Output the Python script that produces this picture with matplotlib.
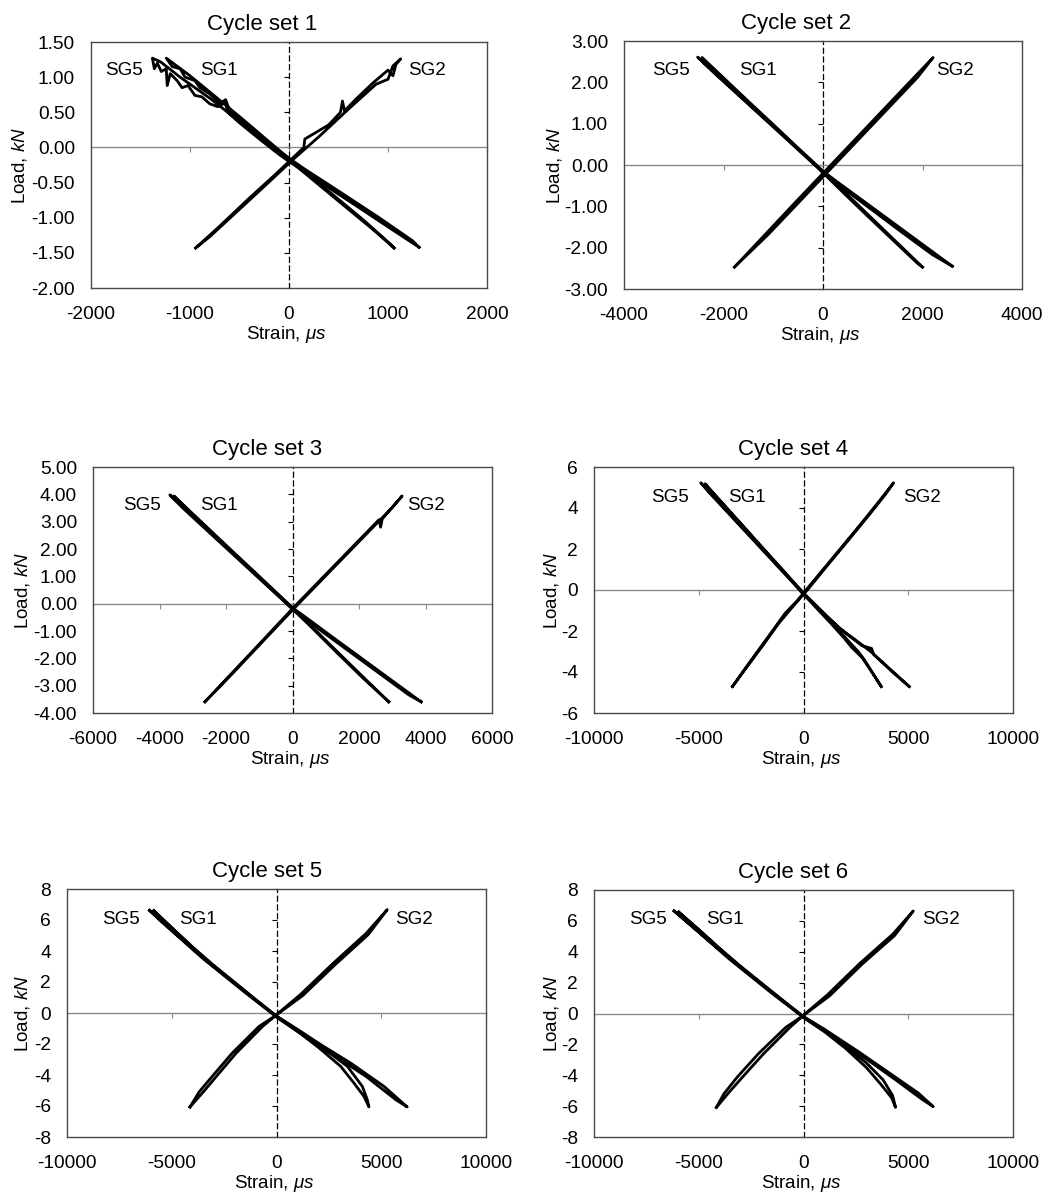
import numpy as np
import matplotlib
matplotlib.use('Agg')
import matplotlib.pyplot as plt
from matplotlib.ticker import FormatStrFormatter

plt.rcParams['font.family'] = ['Liberation Sans', 'DejaVu Sans']
plt.rcParams['mathtext.fontset'] = 'custom'
plt.rcParams['mathtext.rm'] = 'Liberation Sans'
plt.rcParams['mathtext.it'] = 'Liberation Sans:italic'
plt.rcParams['axes.unicode_minus'] = False

# Strain (microstrain) vs load (kN).
# Each list walks the hysteresis loop: out along one branch, back along the other.
set1_sg5_strain = [1313, 1000, 700, 300, 0, -100, -300, -500, -620, -640, -720, -800, -880, -950, -1020,
                   -1080, -1130, -1200, -1230, -1240, -1290, -1330, -1360, -1380, -1300, -1100, -800, -500,
                   -200, 150, 500, 900, 1250, 1313]
set1_sg5_load = [-1.42, -1.13, -0.85, -0.48, -0.20, -0.10, 0.12, 0.35, 0.50, 0.64, 0.58, 0.62, 0.72, 0.74, 0.88,
                 0.85, 0.95, 1.05, 0.88, 1.12, 1.08, 1.20, 1.12, 1.27, 1.22, 1.00, 0.70, 0.37,
                 0.04, -0.30, -0.62, -0.99, -1.33, -1.42]
set1_sg1_strain = [1061, 850, 600, 300, 0, -200, -400, -600, -640, -700, -800, -900, -950, -1050, -1100, -1180,
                   -1239, -1000, -750, -450, -150, 150, 450, 750, 1020, 1061]
set1_sg1_load = [-1.43, -1.17, -0.88, -0.53, -0.18, 0.05, 0.28, 0.52, 0.68, 0.62, 0.76, 0.85, 0.95, 1.00, 1.12, 1.15,
                 1.27, 1.02, 0.73, 0.38, 0.02, -0.33, -0.68, -1.03, -1.37, -1.43]
set1_sg2_strain = [-943, -700, -400, -150, 0, 150, 160, 400, 520, 540, 560, 700, 850, 1000, 1050, 1080, 1128,
                   1050, 1000, 880, 620, 300, 50, -200, -500, -800, -943]
set1_sg2_load = [-1.43, -1.12, -0.72, -0.40, -0.20, 0.0, 0.12, 0.32, 0.50, 0.66, 0.52, 0.72, 0.92, 1.10, 1.02, 1.18, 1.26,
                 1.16, 0.97, 0.90, 0.57, 0.15, -0.16, -0.49, -0.88, -1.27, -1.43]

set2_sg5_strain = [2600, 2000, 1400, 800, 300, 0, -500, -1000, -1500, -2000, -2520, -2200, -1600, -1000, -400,
                   0, 400, 1000, 1600, 2200, 2600]
set2_sg5_load = [-2.45, -1.92, -1.39, -0.86, -0.42, -0.15, 0.40, 0.95, 1.49, 2.04, 2.61, 2.24, 1.58, 0.92, 0.26,
                 -0.18, -0.56, -1.10, -1.64, -2.17, -2.45]
set2_sg1_strain = [2000, 1500, 1000, 500, 0, -500, -1000, -1500, -2000, -2433, -2100, -1600, -1100, -600, -100,
                   400, 900, 1400, 1900, 2000]
set2_sg1_load = [-2.47, -1.89, -1.31, -0.73, -0.15, 0.41, 0.98, 1.54, 2.11, 2.60, 2.20, 1.62, 1.05, 0.49, -0.07,
                 -0.66, -1.24, -1.81, -2.38, -2.47]
set2_sg2_strain = [-1780, -1200, -600, 0, 600, 1200, 1800, 2213, 1900, 1300, 700, 100, -500, -1100, -1780]
set2_sg2_load = [-2.47, -1.73, -0.96, -0.20, 0.56, 1.32, 2.08, 2.60, 2.12, 1.36, 0.60, -0.16, -0.92, -1.68, -2.47]

set3_sg5_strain = [3869, 3000, 2000, 1200, 500, 0, -1000, -2000, -3000, -3688, -3300, -2500, -1500, -500, 0,
                   800, 1700, 2600, 3500, 3869]
set3_sg5_load = [-3.59, -2.82, -1.93, -1.22, -0.59, -0.15, 0.97, 2.09, 3.21, 3.98, 3.50, 2.60, 1.48, 0.36, -0.20,
                 -0.94, -1.74, -2.54, -3.34, -3.59]
set3_sg1_strain = [2894, 2200, 1500, 800, 0, -1000, -2000, -3000, -3568, -3200, -2300, -1300, -300, 500, 1300,
                   2100, 2894]
set3_sg1_load = [-3.59, -2.77, -1.94, -1.10, -0.15, 1.00, 2.14, 3.29, 3.94, 3.48, 2.44, 1.30, 0.15, -0.78, -1.75,
                 -2.70, -3.59]
set3_sg2_strain = [-2633, -2000, -1000, 0, 1000, 2000, 2600, 2650, 2700, 3296, 3000, 2200, 1200, 200, -800,
                   -1800, -2633]
set3_sg2_load = [-3.59, -2.77, -1.48, -0.18, 1.07, 2.32, 3.07, 2.80, 3.10, 3.94, 3.52, 2.52, 1.27, 0.02, -1.26,
                 -2.55, -3.59]

set4_sg5_strain = [5048, 4200, 3264, 2500, 1700, 900, 0, -1000, -2000, -3000, -4000, -4904, -4500, -3500, -2500,
                   -1500, -500, 0, 1000, 2000, 2800, 3250, 3350, 4300, 5048]
set4_sg5_load = [-4.71, -3.92, -3.05, -2.45, -1.85, -1.05, -0.15, 0.95, 2.05, 3.15, 4.25, 5.23, 4.75, 3.65, 2.55,
                 1.45, 0.35, -0.22, -1.20, -2.10, -2.72, -2.85, -3.15, -4.05, -4.71]
set4_sg1_strain = [3710, 3300, 2900, 2627, 2200, 1672, 800, 0, -1000, -2000, -3000, -4000, -4697, -4300, -3300,
                   -2300, -1300, -300, 500, 1300, 1900, 2300, 2800, 3200, 3710]
set4_sg1_load = [-4.71, -4.05, -3.40, -3.02, -2.55, -1.95, -1.00, -0.15, 0.99, 2.12, 3.26, 4.39, 5.18, 4.70, 3.56,
                 2.42, 1.28, 0.15, -0.75, -1.62, -2.30, -2.80, -3.30, -3.90, -4.71]
set4_sg2_strain = [-3392, -2800, -2150, -1500, -876, -300, 0, 1000, 2000, 3000, 3700, 4299, 3900, 3200, 2200,
                   1200, 200, -500, -1200, -1900, -2600, -3392]
set4_sg2_load = [-4.71, -3.85, -2.93, -2.02, -1.13, -0.52, -0.15, 1.08, 2.31, 3.55, 4.45, 5.23, 4.65, 3.75, 2.50,
                 1.27, 0.02, -0.80, -1.65, -2.65, -3.62, -4.71]

set5_sg5_strain = [-6063, -5000, -4000, -3000, -2000, -1000, 0, 1000, 2111, 3540, 5127, 6238, 5700, 4300, 2800,
                   1500, 500, 0, -1500, -3500, -5500, -6063]
set5_sg5_load = [6.62, 5.35, 4.15, 3.02, 1.95, 0.85, -0.20, -1.05, -2.04, -3.23, -4.73, -6.06, -5.60, -4.12, -2.78,
                 -1.65, -0.72, -0.25, 1.32, 3.50, 5.90, 6.62]
set5_sg1_strain = [-5857, -5000, -4000, -3000, -2000, -1000, 0, 1000, 2111, 3381, 4095, 4333, 4413, 4175, 3698,
                   3063, 2000, 1000, 0, -1500, -3500, -5857]
set5_sg1_load = [6.60, 5.50, 4.25, 3.08, 1.98, 0.88, -0.20, -1.10, -2.15, -3.44, -4.73, -5.59, -6.06, -5.38, -4.52,
                 -3.44, -2.22, -1.18, -0.26, 1.38, 3.58, 6.60]
set5_sg2_strain = [-4127, -3500, -2870, -1920, -660, 0, 1250, 2800, 4380, 5286, 4280, 2700, 1150, -80, -830,
                   -2110, -3070, -3700, -4127]
set5_sg2_load = [-6.06, -5.10, -4.09, -2.58, -0.86, -0.12, 1.12, 3.12, 5.06, 6.67, 5.14, 3.20, 1.20, -0.20, -0.86,
                 -2.58, -4.09, -5.10, -6.06]

set6_sg5_strain = [-6178, -5000, -4000, -3000, -2000, -1000, 0, 1000, 2600, 4200, 5478, 6194, 5700, 4400, 3000,
                   1600, 500, 0, -1500, -3500, -5500, -6178]
set6_sg5_load = [6.64, 5.28, 4.12, 3.00, 1.93, 0.84, -0.20, -1.02, -2.45, -3.95, -5.15, -6.03, -5.60, -4.30, -2.95,
                 -1.70, -0.70, -0.25, 1.30, 3.48, 5.85, 6.64]
set6_sg1_strain = [-5955, -5000, -4000, -3000, -2000, -1000, 0, 1000, 2000, 3000, 3800, 4250, 4395, 4200, 3700,
                   3000, 2000, 1000, 0, -1500, -3500, -5955]
set6_sg1_load = [6.57, 5.45, 4.22, 3.06, 1.96, 0.87, -0.20, -1.10, -2.10, -3.20, -4.30, -5.30, -6.08, -5.45, -4.60,
                 -3.50, -2.25, -1.18, -0.26, 1.36, 3.56, 6.57]
set6_sg2_strain = [-4156, -3550, -2900, -1900, -650, 0, 1250, 2800, 4350, 5239, 4250, 2700, 1150, -80, -850,
                   -2150, -3150, -3800, -4156]
set6_sg2_load = [-6.08, -5.10, -4.10, -2.60, -0.90, -0.12, 1.15, 3.20, 5.05, 6.64, 5.12, 3.26, 1.22, -0.20, -0.90,
                 -2.60, -4.10, -5.20, -6.08]

titles = ['Cycle set 1', 'Cycle set 2', 'Cycle set 3', 'Cycle set 4', 'Cycle set 5', 'Cycle set 6']
gauge_names = ['SG5', 'SG1', 'SG2']
x_ticks = [[-2000, -1000, 0, 1000, 2000],
           [-4000, -2000, 0, 2000, 4000],
           [-6000, -4000, -2000, 0, 2000, 4000, 6000],
           [-10000, -5000, 0, 5000, 10000],
           [-10000, -5000, 0, 5000, 10000],
           [-10000, -5000, 0, 5000, 10000]]
y_ticks = [[-2.0, -1.5, -1.0, -0.5, 0.0, 0.5, 1.0, 1.5],
           [-3, -2, -1, 0, 1, 2, 3],
           [-4, -3, -2, -1, 0, 1, 2, 3, 4, 5],
           [-6, -4, -2, 0, 2, 4, 6],
           [-8, -6, -4, -2, 0, 2, 4, 6, 8],
           [-8, -6, -4, -2, 0, 2, 4, 6, 8]]
y_formats = ['%.2f', '%.2f', '%.2f', '%d', '%d', '%d']

series = [
    [(set1_sg5_strain, set1_sg5_load), (set1_sg1_strain, set1_sg1_load), (set1_sg2_strain, set1_sg2_load)],
    [(set2_sg5_strain, set2_sg5_load), (set2_sg1_strain, set2_sg1_load), (set2_sg2_strain, set2_sg2_load)],
    [(set3_sg5_strain, set3_sg5_load), (set3_sg1_strain, set3_sg1_load), (set3_sg2_strain, set3_sg2_load)],
    [(set4_sg5_strain, set4_sg5_load), (set4_sg1_strain, set4_sg1_load), (set4_sg2_strain, set4_sg2_load)],
    [(set5_sg5_strain, set5_sg5_load), (set5_sg1_strain, set5_sg1_load), (set5_sg2_strain, set5_sg2_load)],
    [(set6_sg5_strain, set6_sg5_load), (set6_sg1_strain, set6_sg1_load), (set6_sg2_strain, set6_sg2_load)],
]

# layout: axes boxes in pixels (left, top, right, bottom) and label placements
W, H = 1050, 1198
boxes = [(91, 42, 487, 288), (624, 41, 1022, 289),
         (93, 467, 492, 713), (594, 467, 1013, 713),
         (67, 889, 486, 1137), (594, 890, 1013, 1137)]
title_x = [0.433, 0.432, 0.436, 0.476, 0.477, 0.476]
ylabel_x = [-0.157, -0.151, -0.153, -0.079, -0.084, -0.079]
sg_x = [(0.035, 0.275, 0.80), (0.070, 0.288, 0.784), (0.075, 0.268, 0.787),
        (0.136, 0.319, 0.737), (0.084, 0.268, 0.784), (0.084, 0.267, 0.783)]
sg_y = [0.884, 0.880, 0.844, 0.878, 0.879, 0.881]

fig = plt.figure(figsize=(W / 100, H / 100), dpi=100)

for i in range(6):
    l, t, r, b = boxes[i]
    rect = [l / W, 1 - b / H, (r - l) / W, (b - t) / H]
    xlim = (x_ticks[i][0], x_ticks[i][-1])
    ylim = (y_ticks[i][0], y_ticks[i][-1])

    # axes that only carries the zero lines (Excel style crossing axes)
    az = fig.add_axes(rect, zorder=0)
    az.set_xlim(xlim)
    az.set_ylim(ylim)
    az.set_xticks(x_ticks[i])
    az.set_yticks(y_ticks[i])
    az.spines['top'].set_visible(False)
    az.spines['right'].set_visible(False)
    az.spines['left'].set_position(('data', 0))
    az.spines['left'].set_linestyle((0, (4, 3)))
    az.spines['left'].set_linewidth(0.9)
    az.spines['left'].set_color('black')
    az.spines['bottom'].set_position(('data', 0))
    az.spines['bottom'].set_linewidth(1.0)
    az.spines['bottom'].set_color('#8a8a8a')
    az.tick_params(labelbottom=False, labelleft=False, length=3.5, width=0.8)
    az.tick_params(axis='x', colors='#8a8a8a')
    az.patch.set_visible(False)

    ax = fig.add_axes(rect, zorder=1)
    ax.patch.set_visible(False)
    for (xs, ys) in series[i]:
        ax.plot(xs, ys, color='black', lw=2.0, solid_joinstyle='round')
    ax.set_xlim(xlim)
    ax.set_ylim(ylim)
    ax.set_xticks(x_ticks[i])
    ax.set_yticks(y_ticks[i])
    ax.yaxis.set_major_formatter(FormatStrFormatter(y_formats[i]))
    ax.tick_params(length=0, labelsize=13.8, labelcolor='black')
    ax.tick_params(axis='y', pad=11.5)
    ax.tick_params(axis='x', pad=13)
    for sp in ax.spines.values():
        sp.set_color('#4a4a4a')
        sp.set_linewidth(1.0)

    ax.set_title(titles[i], fontsize=16, x=title_x[i], pad=8.5)
    ax.set_ylabel('Load, $kN$', fontsize=13.5)
    ax.yaxis.set_label_coords(ylabel_x[i], 0.5)
    ax.set_xlabel('Strain, $\\mu s$', fontsize=13.5)
    ax.xaxis.set_label_coords(0.494, -0.146)

    for name, xf in zip(gauge_names, sg_x[i]):
        ax.text(xf, sg_y[i], name, transform=ax.transAxes, fontsize=13.5, ha='left', va='center')

fig.savefig('out.png', dpi=100, facecolor='white')
